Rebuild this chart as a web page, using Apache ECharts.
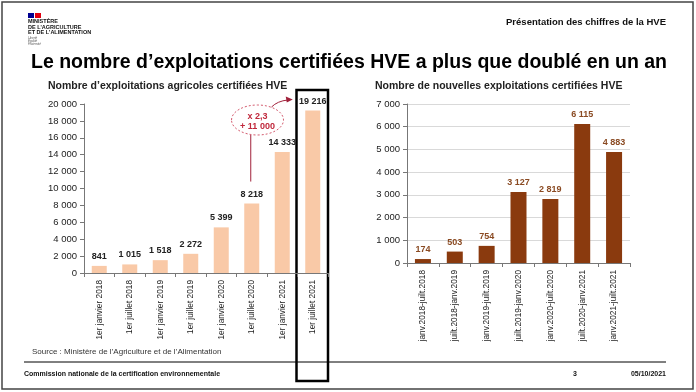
<!DOCTYPE html>
<html><head><meta charset="utf-8">
<script src="https://cdn.jsdelivr.net/npm/echarts@6/dist/echarts.min.js"></script>
<style>html,body{margin:0;padding:0;background:#fff}#c{width:696px;height:392px}</style>
</head><body><div id="c"></div>
<script>
const leftCategories = ['1er janvier 2018','1er juillet 2018','1er janvier 2019','1er juillet 2019','1er janvier 2020','1er juillet 2020','1er janvier 2021','1er juillet 2021'];
const leftValues = [841, 1015, 1518, 2272, 5399, 8218, 14333, 19216];
const rightCategories = ['janv.2018-juilt.2018','juilt.2018-janv.2019','janv.2019-juilt.2019','juilt.2019-janv.2020','janv.2020-juilt.2020','juilt.2020-janv.2021','janv.2021-juilt.2021'];
const rightValues = [174, 503, 754, 3127, 2819, 6115, 4883];

const FONT = 'Liberation Sans, Arial, sans-serif';
const fmt = v => String(v).replace(/\B(?=(\d{3})+(?!\d))/g, ' ');

const chart = echarts.init(document.getElementById('c'), null, {renderer:'canvas'});
const axisCommon = {
  axisLine:{show:true,lineStyle:{color:'#777',width:1}},
  axisTick:{show:true,lineStyle:{color:'#777'},length:4},
  axisLabel:{fontFamily:FONT,fontSize:10,color:'#222'}
};
const LW = 244;
const option = {
  animation:false,
  grid:[
    {left:84, top:104, width:LW, height:169},
    {left:407, top:104, width:223, height:159}
  ],
  xAxis:[
    {type:'category', gridIndex:0, data:leftCategories, ...axisCommon,
      axisTick:{show:true,alignWithLabel:false,length:4,lineStyle:{color:'#777'}},
      axisLabel:{fontFamily:FONT,fontSize:8.3,color:'#222',rotate:90,interval:0,margin:7}},
    {type:'category', gridIndex:1, data:rightCategories, ...axisCommon,
      axisTick:{show:true,alignWithLabel:false,length:4,lineStyle:{color:'#777'}},
      axisLabel:{fontFamily:FONT,fontSize:8.3,color:'#222',rotate:90,interval:0,margin:7}}
  ],
  yAxis:[
    {type:'value', gridIndex:0, min:0, max:20000, interval:2000, ...axisCommon,
      splitLine:{show:false},
      axisLabel:{fontFamily:FONT,fontSize:9.5,color:'#222',formatter:fmt,margin:7}},
    {type:'value', gridIndex:1, min:0, max:7000, interval:1000, ...axisCommon,
      splitLine:{show:true,lineStyle:{color:'#d9d9d9'}},
      axisLabel:{fontFamily:FONT,fontSize:9.5,color:'#222',formatter:fmt,margin:7}}
  ],
  series:[
    {type:'bar', xAxisIndex:0, yAxisIndex:0, data:leftValues, barWidth:15,
      itemStyle:{color:'#F9C9A7'},
      label:{show:true,position:'top',distance:5,fontFamily:FONT,fontSize:9,fontWeight:'bold',color:'#222',formatter:p=>fmt(p.value)}},
    {type:'bar', xAxisIndex:1, yAxisIndex:1, data:rightValues, barWidth:16,
      itemStyle:{color:'#8A3A0E'},
      label:{show:true,position:'top',distance:5,fontFamily:FONT,fontSize:9,fontWeight:'bold',color:'#8A4A22',formatter:p=>fmt(p.value)}}
  ]
};
chart.setOption(option);

// Annotation positions derived from the axes
const lastIdx = leftValues.length - 1;
const pLast = chart.convertToPixel({xAxisIndex:0,yAxisIndex:0},[lastIdx, leftValues[lastIdx]]);
const p8218 = chart.convertToPixel({xAxisIndex:0,yAxisIndex:0},[5, leftValues[5]]);
const catW = LW/leftValues.length;

const ex = 257.5, ey = 120;
const tipX = pLast[0]-20;
chart.setOption({
  graphic:[
    {type:'rect',shape:{x:2,y:2,width:691,height:387},style:{fill:'none',stroke:'#444',lineWidth:1.5},silent:true},
    // logo
    {type:'rect',shape:{x:28,y:13,width:6,height:5},style:{fill:'#000091'}},
    {type:'rect',shape:{x:35,y:13,width:6,height:5},style:{fill:'#E1000F'}},
    {type:'text',x:28,y:19,style:{text:'MINISTÈRE\nDE L\'AGRICULTURE\nET DE L\'ALIMENTATION',fontFamily:FONT,fontSize:5.5,fontWeight:'bold',fill:'#111',lineHeight:5.5}},
    {type:'text',x:28,y:37,style:{text:'Liberté\nÉgalité\nFraternité',fontFamily:FONT,fontSize:3,fontStyle:'italic',fill:'#555',lineHeight:3}},
    {type:'text',x:666,y:17,style:{text:'Présentation des chiffres de la HVE',fontFamily:FONT,fontSize:9.5,fontWeight:'bold',fill:'#111',align:'right'}},
    {type:'text',x:31,y:53,style:{text:'Le nombre d’exploitations certifiées HVE a plus que doublé en un an',fontFamily:FONT,fontSize:19.5,fontWeight:'bold',fill:'#000'}},
    {type:'text',x:48,y:81,style:{text:'Nombre d’exploitations agricoles certifiées HVE',fontFamily:FONT,fontSize:10.5,fontWeight:'bold',fill:'#222'}},
    {type:'text',x:375,y:81,style:{text:'Nombre de nouvelles exploitations certifiées HVE',fontFamily:FONT,fontSize:10.5,fontWeight:'bold',fill:'#222'}},
    {type:'text',x:32,y:348,style:{text:'Source : Ministère de l’Agriculture et de l’Alimentation',fontFamily:FONT,fontSize:8,fill:'#333'}},
    {type:'line',shape:{x1:24,y1:362,x2:666,y2:362},style:{stroke:'#000',lineWidth:1}},
    {type:'text',x:24,y:371,style:{text:'Commission nationale de la certification environnementale',fontFamily:FONT,fontSize:7,fontWeight:'bold',fill:'#111'}},
    {type:'text',x:573,y:371,style:{text:'3',fontFamily:FONT,fontSize:7,fontWeight:'bold',fill:'#111'}},
    {type:'text',x:666,y:371,style:{text:'05/10/2021',fontFamily:FONT,fontSize:7,fontWeight:'bold',fill:'#111',align:'right'}},
    // highlight box around last bar
    {type:'rect',shape:{x:pLast[0]-catW/2-1,y:90,width:catW+1,height:381-90},style:{fill:'none',stroke:'#000',lineWidth:2.5}},
    // ellipse annotation
    {type:'ellipse',shape:{cx:ex,cy:ey,rx:26,ry:15},style:{fill:'#fff',stroke:'#C8324A',lineWidth:0.8,lineDash:[2,2]}},
    {type:'text',x:ex,y:ey-8,style:{text:'x 2,3',fontFamily:FONT,fontSize:9,fontWeight:'bold',fill:'#C0283C',align:'center'}},
    {type:'text',x:ex,y:ey+2,style:{text:'+ 11 000',fontFamily:FONT,fontSize:9,fontWeight:'bold',fill:'#C0283C',align:'center'}},
    {type:'line',shape:{x1:p8218[0]-1,y1:p8218[1]-22,x2:p8218[0]-1,y2:ey+15},style:{stroke:'#A0203A',lineWidth:1}},
    {type:'bezierCurve',shape:{x1:ex+14,y1:ey-13,cpx1:ex+20,cpy1:101,x2:tipX-5,y2:100},style:{stroke:'#A0203A',lineWidth:1,fill:'none'}},
    {type:'polygon',shape:{points:[[tipX,99.5],[tipX-7,96.5],[tipX-6,102.5]]},style:{fill:'#A0203A'}}
  ]
});
</script></body></html>
